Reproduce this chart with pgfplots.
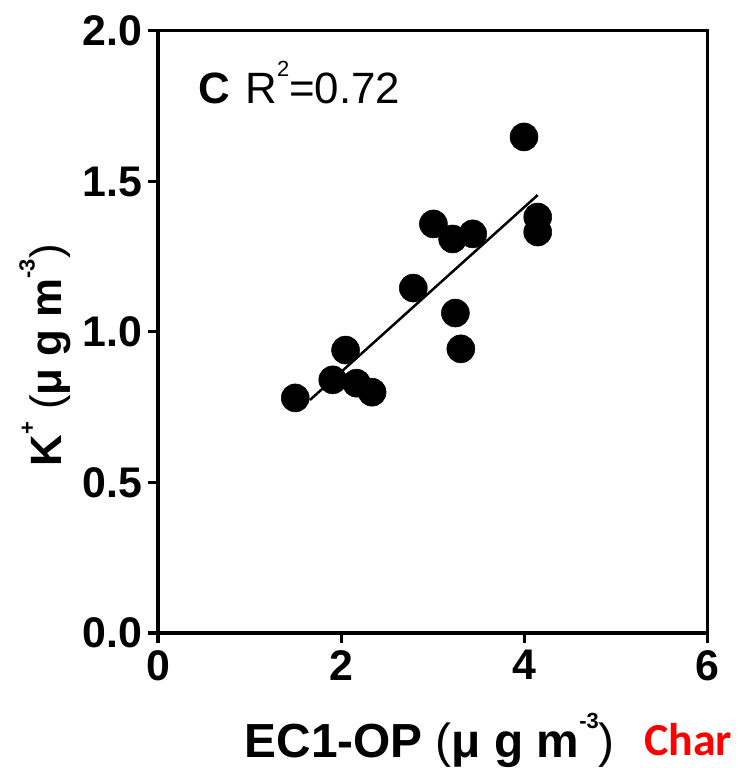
\documentclass[border=0pt]{standalone}
\usepackage{pgfplots}
\pgfplotsset{compat=1.18}
\usepackage{fontspec}
\setmainfont{Liberation Sans}
\newfontfamily\charfont{Carlito}
\newcommand{\mysup}[1]{\raisebox{0.62em}{\fontsize{22}{24}\selectfont #1}}
\begin{document}
\begin{tikzpicture}[line width=3bp]
\useasboundingbox (0bp,0bp) rectangle (743bp,768bp);
\begin{axis}[
  at={(158bp,135bp)}, anchor=south west,
  scale only axis, width=549bp, height=602bp,
  xmin=0, xmax=6, ymin=0, ymax=2,
  xtick={0,2,4,6}, ytick={0,0.5,1,1.5,2},
  xtick pos=bottom, ytick pos=left,
  tick align=outside, major tick length=10bp,
  every axis/.append style={line width=3bp},
  axis line style={line width=3bp},
  every tick/.style={line width=3bp, black},
  /pgf/number format/assume math mode=true,
  tick label style={font=\bfseries\fontsize{43}{50}\selectfont, inner sep=2bp},
  yticklabel style={xshift=-2bp, /pgf/number format/fixed, /pgf/number format/fixed zerofill, /pgf/number format/precision=1},
  xticklabel style={yshift=-4bp},
  xlabel={EC1-OP {\mdseries(}μ g m\mysup{-3}{\mdseries)}},
  xlabel style={font=\bfseries\fontsize{48}{56}\selectfont, at={(axis description cs:0.155,-0.2076)}, anchor=base west, inner sep=0pt},
  ylabel={K\mysup{+} {\mdseries(}μ g m\mysup{-3}{\mdseries)}},
  ylabel style={font=\bfseries\fontsize{44}{52}\selectfont, at={(axis description cs:-0.175,0.274)}, anchor=base west, rotate=0, inner sep=0pt},
  clip=false,
]
\addplot[no marks, line width=2.5bp, black] coordinates {(1.66,0.774) (4.15,1.455)};
\addplot[only marks, mark=*, mark size=14bp, line width=0.5bp, mark options={fill=black, draw=black}] coordinates {
(1.50,0.781)
(1.91,0.841)
(2.05,0.940)
(2.17,0.830)
(2.34,0.800)
(2.79,1.146)
(3.01,1.359)
(3.22,1.309)
(3.44,1.326)
(3.25,1.063)
(3.31,0.944)
(4.00,1.648)
(4.15,1.382)
(4.15,1.332)
};
\node[anchor=base west, inner sep=0pt, font=\fontsize{44}{52}\selectfont] at (axis description cs:0.071,0.879) {\textbf{C}\hspace{0.35em}R\mysup{2}=0.72};
\node[anchor=base west, inner sep=0pt, text=red, font=\charfont\bfseries\fontsize{46}{54}\selectfont] at (axis description cs:0.883,-0.203) {Char};
\end{axis}
\end{tikzpicture}
\end{document}
